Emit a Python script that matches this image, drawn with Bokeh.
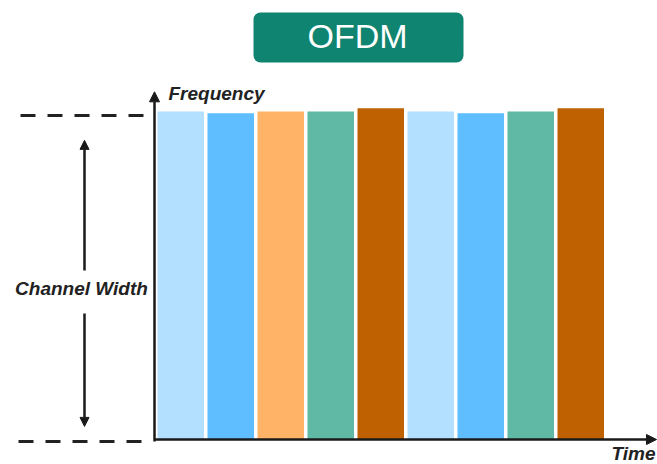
from bokeh.plotting import figure
from bokeh.models import Range1d, Arrow, NormalHead, Label
from bokeh.embed import file_html
from bokeh.resources import INLINE

# Data: 9 OFDM subcarrier/time slots, each spanning the full channel width
slots = [0, 1, 2, 3, 4, 5, 6, 7, 8]
heights = [1.0, 0.995, 1.0, 1.0, 1.01, 1.0, 0.995, 1.0, 1.01]
colors = ["#B3E0FF", "#5FBEFF", "#FFB366", "#5FB9A5", "#BF6100",
          "#B3E0FF", "#5FBEFF", "#5FB9A5", "#BF6100"]
bar_width = 0.93
title_text = "OFDM"
y_label = "Frequency"
x_label = "Time"
span_label = "Channel Width"

p = figure(width=657, height=464, x_range=Range1d(-3.14, 10.0),
           y_range=Range1d(-0.0762, 1.3384), output_backend="svg",
           toolbar_location=None, min_border=0)
p.axis.visible = False
p.grid.visible = False
p.outline_line_color = None

# bars
p.quad(left=slots, right=[s + bar_width for s in slots], bottom=0, top=heights,
       fill_color=colors, line_color=None)

# axes with arrows
ax_col = "#1a1a1a"
p.add_layout(Arrow(end=NormalHead(size=10, fill_color=ax_col, line_color=ax_col),
                   x_start=-0.06, y_start=-0.006, x_end=-0.06, y_end=1.06,
                   line_color=ax_col, line_width=2.5))
p.add_layout(Arrow(end=NormalHead(size=10, fill_color=ax_col, line_color=ax_col),
                   x_start=-0.06, y_start=0.0, x_end=9.98, y_end=0.0,
                   line_color=ax_col, line_width=2.5))

# dashed channel bounds
p.segment(x0=[-2.74, -2.78], y0=[0.988, -0.006], x1=[-0.24, -0.32], y1=[0.988, -0.006],
          line_color="#222222", line_width=3, line_dash="15 12")

# channel width arrows
p.add_layout(Arrow(end=NormalHead(size=9, fill_color=ax_col, line_color=ax_col),
                   x_start=-1.46, y_start=0.515, x_end=-1.46, y_end=0.912,
                   line_color=ax_col, line_width=2.5))
p.add_layout(Arrow(end=NormalHead(size=9, fill_color=ax_col, line_color=ax_col),
                   x_start=-1.46, y_start=0.384, x_end=-1.46, y_end=0.04,
                   line_color=ax_col, line_width=2.5))

lab_kw = dict(text_font="Liberation Sans", text_font_style="bold italic",
              text_font_size="19px", text_color="#222222", text_baseline="middle")
p.add_layout(Label(x=-1.52, y=0.46, text=span_label, text_align="center", **lab_kw))
p.add_layout(Label(x=0.22, y=1.055, text=y_label, text_align="left", **lab_kw))
p.add_layout(Label(x=9.96, y=-0.043, text=x_label, text_align="right", **lab_kw))

# title box
p.quad(left=[1.92], right=[6.12], bottom=[1.149], top=[1.302],
       fill_color="#0F8470", line_color=None, border_radius=7)
p.add_layout(Label(x=4.0, y=1.229, text=title_text, text_align="center",
                   text_baseline="middle", text_font="Liberation Sans",
                   text_font_size="34px", text_color="white"))

open("out.html", "w").write(file_html(p, INLINE))
